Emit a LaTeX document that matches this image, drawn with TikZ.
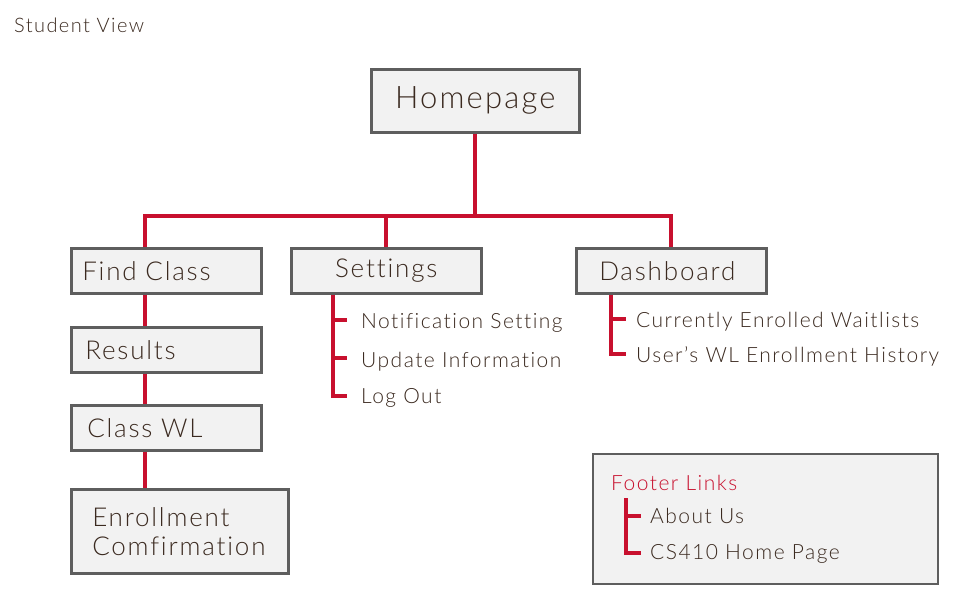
\documentclass[tikz,border=0pt]{standalone}
\usepackage{fontspec}
\setmainfont{Lato}[UprightFont=* Light, Ligatures=CommonOff, LetterSpace=7]
\definecolor{ink}{HTML}{3B2A20}
\definecolor{accent}{HTML}{C8102E}
\definecolor{boxline}{HTML}{5E5E5E}
\definecolor{boxfill}{HTML}{F2F2F2}
\newcommand{\fs}[1]{\fontsize{#1}{#1}\selectfont}
\begin{document}
\begin{tikzpicture}[x=1pt,y=-1pt,
  box/.style={draw=boxline, fill=boxfill, line width=2.5pt, anchor=north west,
    text=ink, align=left, inner ysep=0pt, minimum height=45pt, font=\fs{26}},
  item/.style={anchor=base west, text=ink, inner sep=0pt, font=\fs{21}},
  link/.style={draw=accent, line width=4pt}]
\useasboundingbox (0,0) rectangle (971,613);

% title
\node[anchor=base west, text=ink, inner sep=0pt, font=\fs{20}] (title) at (14,32) {Student View};

% main pages
\node[box, align=center, text width=188pt, inner xsep=10pt, minimum height=63pt, font=\fs{31}] (home) at (370,68) {Homepage};
\node[box, text width=168pt, inner xsep=11pt] (find) at (70,247) {Find Class};
\node[box, align=center, text width=170pt, inner xsep=10pt] (set) at (290,247) {Settings};
\node[box, text width=144pt, inner xsep=23pt] (dash) at (575,247) {Dashboard};
\node[box, text width=162pt, inner xsep=14pt] (results) at (70,326) {Results};
\node[box, text width=158pt, inner xsep=16pt] (classwl) at (70,404) {Class WL};
\node[box, text width=175pt, inner xsep=21pt, minimum height=84pt, font={\fontsize{26}{29}\selectfont}] (enroll) at (70,488) {Enrollment\\Comfirmation};

% settings items
\node[item] (notif) at (361,328) {Notification Setting};
\node[item] (update) at (361,367) {Update Information};
\node[item] (logout) at (361,403) {Log Out};

% dashboard items
\node[item] (enrolled) at (636,327) {Currently Enrolled Waitlists};
\node[item] (history) at (636,362) {User’s WL Enrollment History};

% footer panel
\node[draw=boxline, fill=boxfill, line width=1.8pt, anchor=north west,
  minimum width=345pt, minimum height=130pt, inner sep=0pt] (footer) at (592,453) {};
\node[item, text=accent] (ftitle) at (611,490) {Footer Links};
\node[item] (about) at (650,523) {About Us};
\node[item] (cshome) at (650,559) {CS410 Home Page};

% main tree
\coordinate (spine) at (145,0);
\draw[link] (home.south) -- ++(0,82) coordinate (bus);
\draw[link] (find.north -| spine) |- (dash.north |- bus) -- (dash.north);
\draw[link] (set.north) -- (set.north |- bus);
\draw[link] (find.south -| spine) -- (results.north -| spine);
\draw[link] (results.south -| spine) -- (classwl.north -| spine);
\draw[link] (classwl.south -| spine) -- (enroll.north -| spine);

% tick ends beside the sub-items
\coordinate (tnotif) at ([xshift=-14pt,yshift=8pt]notif.base west);
\coordinate (tupdate) at ([xshift=-14pt,yshift=9pt]update.base west);
\coordinate (tlogout) at ([xshift=-14pt,yshift=7pt]logout.base west);
\coordinate (tenrolled) at ([xshift=-10pt,yshift=8pt]enrolled.base west);
\coordinate (thistory) at ([xshift=-10pt,yshift=8pt]history.base west);
\coordinate (tabout) at ([xshift=-9pt,yshift=7pt]about.base west);
\coordinate (tcshome) at ([xshift=-9pt,yshift=6pt]cshome.base west);

% settings branch
\coordinate (sx) at (333,0);
\draw[link] (set.south -| sx) |- (tlogout);
\draw[link] (sx |- tnotif) -- (tnotif);
\draw[link] (sx |- tupdate) -- (tupdate);

% dashboard branch
\coordinate (dx) at (611,0);
\draw[link] (dash.south -| dx) |- (thistory);
\draw[link] (dx |- tenrolled) -- (tenrolled);

% footer branch
\coordinate (ftop) at ([xshift=15pt,yshift=-8pt]ftitle.base west);
\draw[link] (ftop) |- (tcshome);
\draw[link] (ftop |- tabout) -- (tabout);
\end{tikzpicture}
\end{document}
